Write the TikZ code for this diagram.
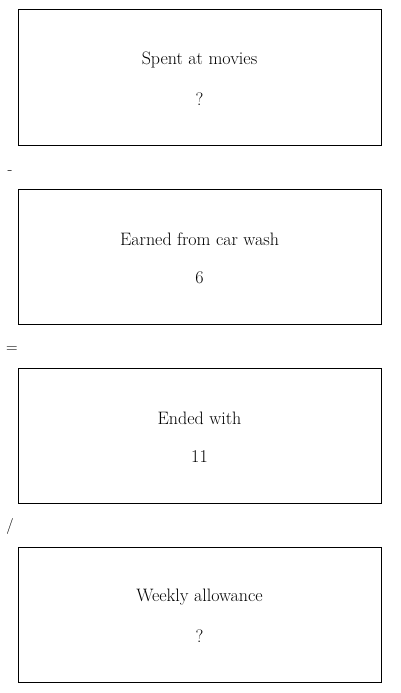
\documentclass[tikz,border=0pt]{standalone}
\usepackage{tikz}
\usetikzlibrary{positioning}
\tikzset{
	stepbox/.style={draw, line width=1pt, minimum width=363pt, minimum height=135pt, inner sep=0pt},
	boxtext/.style={font=\fontsize{18}{21}\selectfont, inner sep=0pt},
	optext/.style={font=\fontsize{16}{19}\selectfont, inner sep=0pt}
}

\begin{document}
\begin{tikzpicture}[x=1pt, y=-1pt]
			%%%%% START %%%%%
			
			\useasboundingbox (0, 0) rectangle (400, 693);
			
			\node[stepbox] (movies) at (199.5, 77.5) {};
			\node[boxtext] (moviesname) at (199.5, 60) {Spent at movies};
			\node[boxtext] (moviesval) at (199.5, 99) {?};
			
			\node[optext] (minus) at (10, 173) {-};
			
			\node[stepbox] (carwash) at (199.5, 256.5) {};
			\node[boxtext] (carwashname) at (199.5, 239) {Earned from car wash};
			\node[boxtext] (carwashval) at (199.5, 278) {6};
			
			\node[optext] (equals) at (12, 350) {=};
			
			\node[stepbox] (ended) at (199.5, 435.5) {};
			\node[boxtext] (endedname) at (199.5, 418) {Ended with};
			\node[boxtext] (endedval) at (199.5, 457) {11};
			
			\node[optext] (divide) at (10, 526) {/};
			
			\node[stepbox] (allowance) at (199.5, 614.5) {};
			\node[boxtext] (allowancename) at (199.5, 597) {Weekly allowance};
			\node[boxtext] (allowanceval) at (199.5, 636) {?};
			
			%%%%% END %%%%%
\end{tikzpicture}
\end{document}
